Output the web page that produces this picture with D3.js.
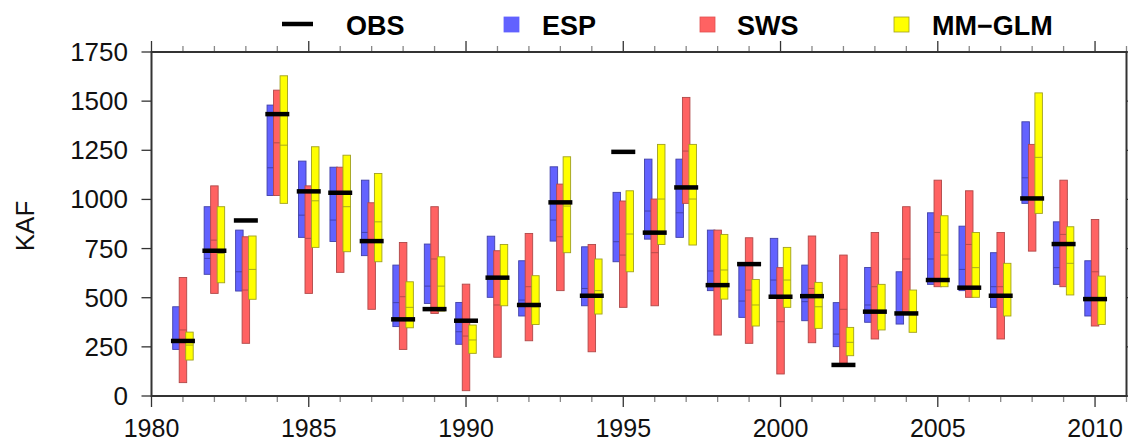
<!DOCTYPE html>
<html><head><meta charset="utf-8">
<script src="https://cdn.jsdelivr.net/npm/d3@7"></script>
<style>
html,body{margin:0;padding:0;background:#fff;}
svg{display:block;font-family:"Liberation Sans",Arial,sans-serif;}
</style></head>
<body><svg id="c" width="1128" height="441"></svg>
<script>
const years = d3.range(1981, 2011);
const espLo  = [237,619,534,1020,807,786,714,353,471,263,502,407,788,459,683,798,807,536,400,505,383,251,375,366,568,536,451,980,568,407];
const espHi  = [454,963,844,1480,1195,1164,1098,666,773,476,813,688,1166,759,1036,1205,1205,844,671,802,666,475,654,632,932,864,729,1395,886,688];
const espMed = [285,700,632,1161,920,895,832,475,559,327,600,488,895,547,785,941,932,636,483,590,480,315,463,420,697,644,556,1110,653,497];
const swsLo  = [68,522,268,1020,522,629,441,237,420,27,197,281,536,225,451,459,980,310,268,112,271,166,290,424,556,502,290,737,556,356];
const swsHi  = [603,1069,810,1556,1069,1164,983,781,963,569,739,827,1078,771,992,1002,1519,844,805,653,814,717,832,963,1098,1044,832,1280,1098,898];
const swsMed = [336,793,539,1288,802,1030,793,505,697,305,463,556,810,514,717,729,1246,564,539,378,547,441,556,697,832,771,556,1005,822,632];
const glmLo  = [183,576,492,980,756,734,683,347,432,217,459,364,729,417,632,771,768,493,356,451,344,205,336,324,556,502,407,929,514,364];
const glmHi  = [325,963,814,1629,1268,1225,1132,581,708,361,771,612,1217,697,1044,1280,1280,822,593,756,578,349,568,539,917,832,675,1542,861,610];
const glmMed = [259,725,644,1276,993,963,886,451,559,285,598,454,966,536,824,1002,1002,641,463,590,454,273,429,420,717,653,510,1214,675,493];
const obs    = [280,739,893,1434,1041,1034,788,390,442,383,602,463,985,510,1242,831,1061,564,671,505,508,158,429,420,590,551,510,1005,773,493];
const yTicks = [0,250,500,750,1000,1250,1500,1750];
const xTickLabels = [1980,1985,1990,1995,2000,2005,2010];
const seriesNames = ["OBS","ESP","SWS","MM\u2212GLM"];

const svg = d3.select("#c");
const L = 151.5, R = 1126.5, T = 52, B = 396;
const x = d3.scaleLinear().domain([1980, 2011]).range([L, R]);
const y = d3.scaleLinear().domain([0, 1750]).range([B, T]);
const axisCol = "#333";

const minor = d3.range(1980, 2012);
const g = svg.append("g");
minor.forEach(v => {
  const major = v % 5 === 0;
  const len = major ? 11 : 6;
  g.append("line").attr("x1", x(v)).attr("x2", x(v)).attr("y1", B).attr("y2", B + len)
    .attr("stroke", major ? axisCol : "#888").attr("stroke-width", 1.3);
  g.append("line").attr("x1", x(v)).attr("x2", x(v)).attr("y1", T).attr("y2", T - len)
    .attr("stroke", major ? axisCol : "#888").attr("stroke-width", 1.3);
});
yTicks.forEach(v => {
  g.append("line").attr("x1", L - 10).attr("x2", L).attr("y1", y(v)).attr("y2", y(v))
    .attr("stroke", axisCol).attr("stroke-width", 1.3);
  g.append("line").attr("x1", R).attr("x2", R + 10).attr("y1", y(v)).attr("y2", y(v))
    .attr("stroke", axisCol).attr("stroke-width", 1.3);
});
svg.append("g").selectAll("text").data(yTicks).join("text")
  .attr("x", 128).attr("y", d => y(d) + 9).attr("text-anchor", "end")
  .attr("font-size", 26).attr("fill", "#111").text(d => d);
svg.append("g").selectAll("text").data(xTickLabels).join("text")
  .attr("x", d => x(d)).attr("y", 437).attr("text-anchor", "middle")
  .attr("font-size", 25).attr("fill", "#111").text(d => d);
svg.append("text").attr("transform", "translate(34,226) rotate(-90)")
  .attr("text-anchor", "middle").attr("font-size", 26).attr("fill", "#111").text("KAF");

const bw = 7.5;
const series = [
  {lo: espLo, hi: espHi, med: espMed, off: -6.5, fill: "#6262ff", stroke: "#4040a8"},
  {lo: swsLo, hi: swsHi, med: swsMed, off: 0, fill: "#ff6262", stroke: "#b04848"},
  {lo: glmLo, hi: glmHi, med: glmMed, off: 6.5, fill: "#ffff00", stroke: "#a0a020"}
];
series.forEach(s => {
  const gg = svg.append("g");
  gg.selectAll("rect").data(years).join("rect")
    .attr("x", (d, i) => x(d) + s.off - bw / 2)
    .attr("y", (d, i) => y(s.hi[i]))
    .attr("width", bw)
    .attr("height", (d, i) => y(s.lo[i]) - y(s.hi[i]))
    .attr("fill", s.fill).attr("stroke", s.stroke).attr("stroke-width", 0.9);
  gg.selectAll("line").data(years).join("line")
    .attr("x1", (d, i) => x(d) + s.off - bw / 2)
    .attr("x2", (d, i) => x(d) + s.off + bw / 2)
    .attr("y1", (d, i) => y(s.med[i])).attr("y2", (d, i) => y(s.med[i]))
    .attr("stroke", s.stroke).attr("stroke-width", 0.9);
});
svg.append("g").selectAll("line").data(years).join("line")
  .attr("x1", d => x(d) - 12).attr("x2", d => x(d) + 12)
  .attr("y1", (d, i) => y(obs[i])).attr("y2", (d, i) => y(obs[i]))
  .attr("stroke", "#000").attr("stroke-width", 4.5);

svg.append("rect").attr("x", L).attr("y", T).attr("width", R - L).attr("height", B - T)
  .attr("fill", "none").attr("stroke", axisCol).attr("stroke-width", 2);

const lg = svg.append("g");
lg.append("line").attr("x1", 282).attr("x2", 313).attr("y1", 24).attr("y2", 24)
  .attr("stroke", "#000").attr("stroke-width", 4.5);
const legSq = [{x: 504, fill: "#6262ff", stroke: "#6262ff"}, {x: 700, fill: "#ff6262", stroke: "#e05050"}, {x: 894, fill: "#ffff00", stroke: "#a0a020"}];
legSq.forEach(s => lg.append("rect").attr("x", s.x).attr("y", 17).attr("width", 15).attr("height", 15)
  .attr("fill", s.fill).attr("stroke", s.stroke).attr("stroke-width", 0.8));
const legTx = [346, 542, 737, 932];
seriesNames.forEach((n, i) => lg.append("text").attr("x", legTx[i]).attr("y", 35)
  .attr("font-size", 27).attr("font-weight", "bold").attr("fill", "#000").text(n));
</script></body></html>
